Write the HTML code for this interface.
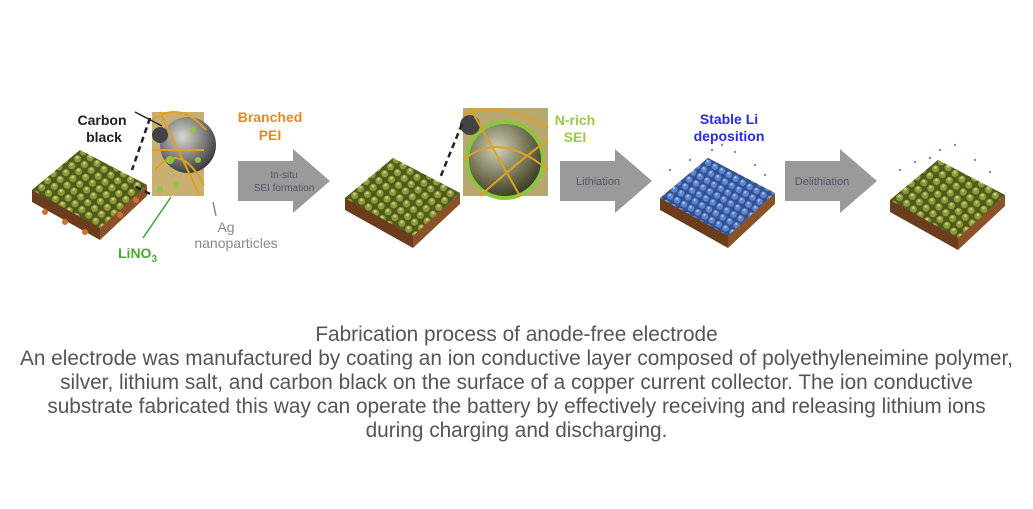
<!DOCTYPE html>
<html><head><meta charset="utf-8"><style>
html,body{margin:0;padding:0;background:#fff;width:1033px;height:509px;overflow:hidden}
.cap{position:absolute;left:0;width:1033px;top:323px;text-align:center;font-family:"Liberation Sans",sans-serif;font-size:20.8px;line-height:24px;color:#555;white-space:nowrap}
</style></head><body>
<svg width="1033" height="509" style="position:absolute;left:0;top:0" font-family="Liberation Sans, sans-serif">
<defs>
<pattern id="dots" width="9" height="9" patternUnits="userSpaceOnUse" patternTransform="rotate(40)">
<rect width="9" height="9" fill="#4f5a1c"/><circle cx="4.5" cy="4.5" r="3.6" fill="#8f9a3a"/><circle cx="3.5" cy="3.5" r="1.4" fill="#c9d07a"/>
</pattern>
<pattern id="bdots" width="8" height="8" patternUnits="userSpaceOnUse" patternTransform="rotate(30)">
<rect width="8" height="8" fill="#35508a"/><circle cx="4" cy="4" r="3.3" fill="#5a86d6"/><circle cx="3" cy="3" r="1.2" fill="#a8c4f0"/>
</pattern>
<radialGradient id="sph" cx="0.4" cy="0.35" r="0.7"><stop offset="0" stop-color="#d8d8d0"/><stop offset="0.6" stop-color="#777"/><stop offset="1" stop-color="#333"/></radialGradient>
<radialGradient id="sph2" cx="0.4" cy="0.35" r="0.7"><stop offset="0" stop-color="#d0d0b8"/><stop offset="0.6" stop-color="#707050"/><stop offset="1" stop-color="#303020"/></radialGradient>
<g id="elec">
<polygon points="0,40 48,0 115,35 68,78 68,90 0,52" fill="#6b3d1c"/>
<polygon points="68,78 115,35 115,46 68,90" fill="#8a5228"/>
<polygon points="0,40 48,0 115,35 68,78" fill="url(#dots)"/>
</g>
<g id="belec">
<polygon points="0,40 48,0 115,35 68,78 68,90 0,52" fill="#6b3d1c"/>
<polygon points="68,78 115,35 115,46 68,90" fill="#8a5228"/>
<polygon points="0,40 48,0 115,35 68,78" fill="url(#bdots)"/>
</g>
<g id="arr"><polygon points="0,12 55,12 55,0 92,32 55,64 55,52 0,52" fill="#9a9a9a"/></g>
</defs>
<use href="#elec" x="32" y="150"/>
<circle cx="45" cy="212" r="3" fill="#d07030"/><circle cx="65" cy="222" r="3" fill="#d07030"/><circle cx="85" cy="232" r="3" fill="#d07030"/><circle cx="120" cy="215" r="3" fill="#d07030"/><circle cx="136" cy="200" r="3" fill="#d07030"/>
<rect x="152" y="112" width="52" height="84" fill="#c8b070"/>
<circle cx="188" cy="145" r="28" fill="url(#sph)"/>
<circle cx="160" cy="135" r="8" fill="#444"/>
<path d="M152 120 Q180 100 206 130 M155 170 Q180 140 204 185 M160 112 L200 196 M152 150 L204 150" stroke="#e0a020" stroke-width="2" fill="none"/>
<g fill="#8cc63f"><circle cx="170" cy="160" r="4"/><circle cx="193" cy="130" r="3"/><circle cx="198" cy="160" r="3"/><circle cx="176" cy="185" r="3"/><circle cx="160" cy="190" r="3"/></g>
<path d="M150 118 L132 170 M150 194 L132 185" stroke="#222" stroke-width="2.5" stroke-dasharray="6,4"/>
<path d="M135 112 L162 126" stroke="#222" stroke-width="1.5"/>
<path d="M171 197 L143 238" stroke="#3aa03a" stroke-width="1.5"/>
<path d="M213 202 L216 216" stroke="#888" stroke-width="1.5"/>
<text x="102" y="125" font-size="14" font-weight="bold" fill="#222" text-anchor="middle">Carbon</text>
<text x="104" y="142" font-size="14" font-weight="bold" fill="#222" text-anchor="middle">black</text>
<text x="270" y="122" font-size="14" font-weight="bold" fill="#e08a2a" text-anchor="middle">Branched</text>
<text x="270" y="140" font-size="14" font-weight="bold" fill="#e08a2a" text-anchor="middle">PEI</text>
<text x="226" y="232" font-size="14" fill="#888" text-anchor="middle">Ag</text>
<text x="236" y="248" font-size="14" fill="#888" text-anchor="middle">nanoparticles</text>
<text x="118" y="258" font-size="14" font-weight="bold" fill="#48a830">LiNO<tspan font-size="10" dy="4">3</tspan></text>
<use href="#arr" x="238" y="149"/>
<text x="284" y="178" font-size="10" fill="#556" text-anchor="middle">In-situ</text>
<text x="284" y="191" font-size="10" fill="#556" text-anchor="middle">SEI formation</text>
<use href="#elec" x="345" y="158"/>
<rect x="463" y="108" width="85" height="88" fill="#b8a870"/>
<circle cx="505" cy="160" r="38" fill="url(#sph2)" stroke="#8cc63f" stroke-width="4"/>
<circle cx="470" cy="125" r="10" fill="#444"/>
<path d="M463 115 Q500 100 548 128 M470 108 L520 196 M463 160 Q500 130 548 170 M480 196 Q520 160 548 140" stroke="#e0a020" stroke-width="2" fill="none"/>
<path d="M462 124 L440 178" stroke="#222" stroke-width="2.5" stroke-dasharray="6,4"/>
<text x="575" y="125" font-size="14" font-weight="bold" fill="#9cc84a" text-anchor="middle">N-rich</text>
<text x="575" y="142" font-size="14" font-weight="bold" fill="#9cc84a" text-anchor="middle">SEI</text>
<use href="#arr" x="560" y="149"/>
<text x="598" y="185" font-size="11" fill="#556" text-anchor="middle">Lithiation</text>
<use href="#belec" x="660" y="158"/>
<g fill="#7090c0"><circle cx="670" cy="170" r="1.2"/><circle cx="690" cy="160" r="1.2"/><circle cx="712" cy="150" r="1.2"/><circle cx="735" cy="152" r="1.2"/><circle cx="755" cy="165" r="1.2"/><circle cx="765" cy="175" r="1.2"/><circle cx="722" cy="145" r="1.2"/></g>
<text x="729" y="124" font-size="14" font-weight="bold" fill="#2a2ae0" text-anchor="middle">Stable Li</text>
<text x="729" y="141" font-size="14" font-weight="bold" fill="#2a2ae0" text-anchor="middle">deposition</text>
<use href="#arr" x="785" y="149"/>
<text x="822" y="185" font-size="11" fill="#556" text-anchor="middle">Delithiation</text>
<use href="#elec" x="890" y="160"/>
<g fill="#7090c0"><circle cx="900" cy="170" r="1.2"/><circle cx="915" cy="162" r="1.2"/><circle cx="940" cy="150" r="1.2"/><circle cx="955" cy="145" r="1.2"/><circle cx="975" cy="160" r="1.2"/><circle cx="990" cy="172" r="1.2"/><circle cx="930" cy="158" r="1.2"/></g>
</svg>
<div class="cap">Fabrication process of anode-free electrode<br>An electrode was manufactured by coating an ion conductive layer composed of polyethyleneimine polymer,<br>silver, lithium salt, and carbon black on the surface of a copper current collector. The ion conductive<br>substrate fabricated this way can operate the battery by effectively receiving and releasing lithium ions<br>during charging and discharging.</div>
</body></html>
